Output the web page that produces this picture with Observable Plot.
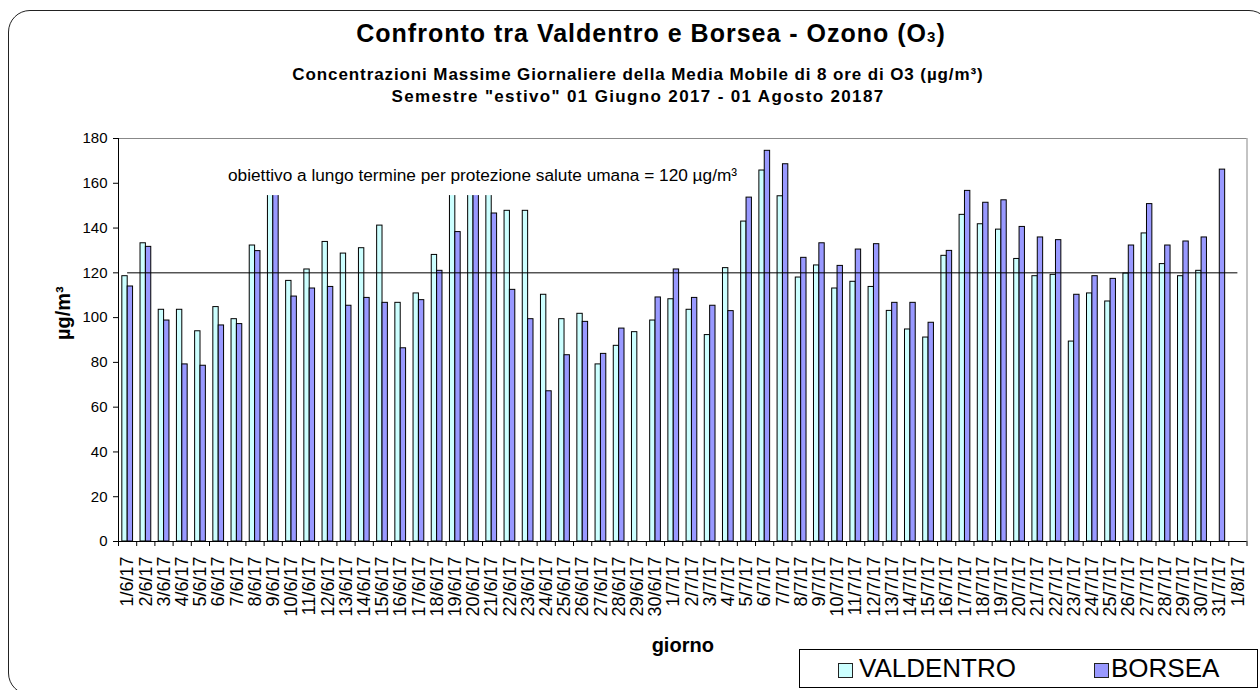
<!DOCTYPE html>
<html><head><meta charset="utf-8">
<script src="https://cdn.jsdelivr.net/npm/d3@7"></script>
<script src="https://cdn.jsdelivr.net/npm/@observablehq/plot@0.6"></script>
<style>
body{margin:0;background:#fff;font-family:"Liberation Sans",Arial,sans-serif;color:#000;}
#wrap{position:relative;width:1260px;height:690px;overflow:hidden;}
#border{position:absolute;left:8px;top:10px;width:1263px;height:685px;border:1.5px solid #222;border-radius:22px;box-sizing:border-box;}
.t{position:absolute;width:1000px;text-align:center;font-weight:bold;white-space:nowrap;line-height:1;}
#chart{position:absolute;left:0;top:0;}
#legend{position:absolute;left:799px;top:649px;width:459px;height:39px;border:1px solid #000;box-sizing:border-box;background:#fff;}
.sw{position:absolute;top:13px;width:15px;height:15px;border:1px solid #222;box-sizing:border-box;}
.lt{position:absolute;top:5px;font-size:26px;line-height:1;white-space:nowrap;}
</style></head>
<body>
<div id="wrap">
  <div id="border"></div>
  <div id="chart"></div>
  <div class="t" style="left:151px;top:20.5px;font-size:25px;letter-spacing:1px;">Confronto tra Valdentro e Borsea - Ozono (O<span style="font-size:15px">3</span>)</div>
  <div class="t" style="left:138px;top:66px;font-size:17px;letter-spacing:0.9px;">Concentrazioni Massime Giornaliere della Media Mobile di 8 ore di O3 (µg/m³)</div>
  <div class="t" style="left:138px;top:88px;font-size:17px;letter-spacing:1.35px;">Semestre "estivo" 01 Giugno 2017 - 01 Agosto 20187</div>
  <div id="legend"></div>
</div>
<script>
const days = ["1/6/17","2/6/17","3/6/17","4/6/17","5/6/17","6/6/17","7/6/17","8/6/17","9/6/17","10/6/17",
"11/6/17","12/6/17","13/6/17","14/6/17","15/6/17","16/6/17","17/6/17","18/6/17","19/6/17","20/6/17",
"21/6/17","22/6/17","23/6/17","24/6/17","25/6/17","26/6/17","27/6/17","28/6/17","29/6/17","30/6/17",
"1/7/17","2/7/17","3/7/17","4/7/17","5/7/17","6/7/17","7/7/17","8/7/17","9/7/17","10/7/17",
"11/7/17","12/7/17","13/7/17","14/7/17","15/7/17","16/7/17","17/7/17","18/7/17","19/7/17","20/7/17",
"21/7/17","22/7/17","23/7/17","24/7/17","25/7/17","26/7/17","27/7/17","28/7/17","29/7/17","30/7/17",
"31/7/17","1/8/17"];
const valdentro = [118.5,133.2,103.5,103.5,93.9,104.7,99.3,132.2,160,116.4,
121.5,133.8,128.6,131.0,141.1,106.6,110.8,128.0,160,162,
158,147.7,147.7,110.2,99.3,101.7,79.1,87.4,93.5,98.7,
108.2,103.5,92.2,122.1,142.9,165.7,154.2,117.9,123.3,113.0,
116.0,113.7,103.0,94.7,91.1,127.6,145.9,141.7,139.3,126.2,
118.5,119.1,89.3,110.8,107.2,119.7,137.6,123.9,118.5,120.9,
null,null];
const borsea = [113.9,131.6,98.7,79.1,78.5,96.5,97.1,129.7,158,109.4,
113.0,113.7,105.3,108.8,106.6,86.3,107.8,120.9,138.2,160,
146.5,112.4,99.3,67.1,83.2,98.1,83.8,95.1,null,109.0,
121.5,108.8,105.3,102.9,153.6,174.5,168.5,126.7,133.2,123.1,
130.4,132.8,106.6,106.6,97.7,129.8,156.6,151.3,152.4,140.5,
135.8,134.6,110.2,118.5,117.3,132.2,150.7,132.2,134.0,135.8,
166.1,null];
const seriesNames = ["VALDENTRO","BORSEA"];
const seriesColors = ["#CCFFFF","#9999FF"];
const yTicks = [0,20,40,60,80,100,120,140,160,180];
const threshold = 120;
const annotationText = "obiettivo a lungo termine per protezione salute umana = 120 µg/m³";
const yTitle = "µg/m³";
const xTitle = "giorno";

const seriesValues = [valdentro, borsea];
const rows = [];
days.forEach((d, i) => {
  seriesNames.forEach((s, k) => {
    const v = seriesValues[k][i];
    if (v != null) rows.push({i, day: d, k, series: s, value: v});
  });
});
const barEdges = [[0.21, 0.505], [0.505, 0.8]];
const n = days.length;
const annot = {x: 20.0, y: 163.3, x1: 5.75, x2: 34.3, y1: 154.5, y2: 171};

const chart = Plot.plot({
  width: 1260, height: 690,
  marginTop: 138, marginBottom: 149, marginLeft: 118, marginRight: 13.5,
  style: {fontFamily: "'Liberation Sans', Arial, sans-serif", background: "transparent", color: "#000"},
  x: {domain: [0, n], label: null},
  y: {domain: [0, 180], label: null},
  color: {domain: seriesNames, range: seriesColors},
  marks: [
    Plot.rect(rows, {x1: d => d.i + barEdges[d.k][0], x2: d => d.i + barEdges[d.k][1], y1: 0, y2: "value", fill: "series", stroke: "#000", strokeWidth: 1}),
    Plot.ruleY([threshold], {x1: 0.5, x2: n - 0.5, stroke: "#000", strokeWidth: 1}),
    Plot.rect([annot], {x1: "x1", x2: "x2", y1: "y1", y2: "y2", fill: "#fff"}),
    Plot.text([annot], {x: "x", y: "y", text: () => annotationText, fontSize: 17.25, fill: "#000"}),
    Plot.ruleY([180], {stroke: "#888"}),
    Plot.ruleX([n], {stroke: "#888"}),
    Plot.ruleX([0], {stroke: "#000"}),
    Plot.ruleY([0], {stroke: "#000"}),
    Plot.axisY({ticks: yTicks, tickSize: 5, tickPadding: 6, fontSize: 15, label: null}),
    Plot.axisX({ticks: d3.range(0, n + 1), tickSize: 5, tickFormat: () => "", label: null}),
    Plot.axisX({ticks: days.map((d, i) => i + 0.5), tickFormat: v => days[Math.floor(v)], tickRotate: -90, tickSize: 0, tickPadding: 15, fontSize: 18, label: null}),
    Plot.text([yTitle], {frameAnchor: "left", dx: -55, rotate: -90, text: d => d, fontSize: 20, fontWeight: "bold", fill: "#000"}),
    Plot.text([xTitle], {frameAnchor: "bottom", dx: 0, dy: 110, text: d => d, fontSize: 20, fontWeight: "bold", fill: "#000"})
  ]
});
document.getElementById("chart").appendChild(chart);

const legend = document.getElementById("legend");
const swX = [38, 294], txX = [59, 311];
seriesNames.forEach((s, k) => {
  const sw = document.createElement("div");
  sw.className = "sw"; sw.style.left = swX[k] + "px"; sw.style.background = seriesColors[k];
  legend.appendChild(sw);
  const tx = document.createElement("div");
  tx.className = "lt"; tx.style.left = txX[k] + "px"; tx.textContent = s;
  legend.appendChild(tx);
});
</script>
</body></html>
